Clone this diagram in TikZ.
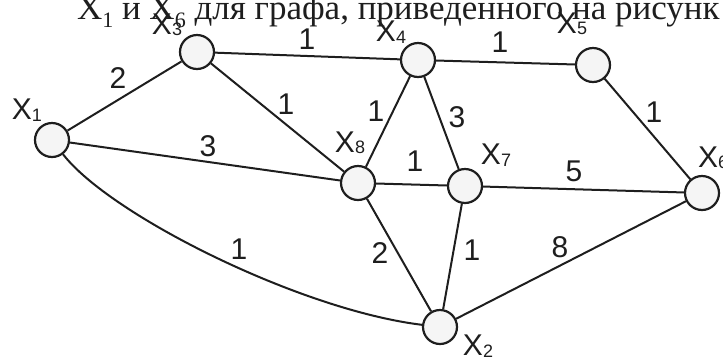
\documentclass[tikz,border=0pt]{standalone}
\usepackage{fontspec}
\setmainfont{Liberation Sans}
\newfontfamily\capfont{Liberation Serif}
\usetikzlibrary{positioning}
\definecolor{ink}{HTML}{1E1E1E}
\tikzset{
	graphstyle/.style={
		x=1pt, y=-1pt,
		line width=2pt,
		draw=ink,
		text=ink},
	vertex/.style={circle, draw=ink, fill=gray!8, line width=2.2pt,
		minimum size=34pt, inner sep=0pt},
	vname/.style={inner sep=0pt, font=\fontsize{30}{36}\selectfont},
	weight/.style={inner sep=0pt, font=\fontsize{30}{36}\selectfont},
	caption/.style={inner sep=0pt, anchor=base west,
		font=\capfont\fontsize{35}{42}\selectfont}}
\newcommand{\vx}[1]{X\raisebox{-1.5pt}{\fontsize{18}{18}\selectfont#1}}
\newcommand{\capsub}[1]{\raisebox{-0.25em}{\fontsize{22}{22}\selectfont#1}}

\begin{document}
\begin{tikzpicture}[graphstyle]
	\useasboundingbox (0,0) rectangle (723,360);
	\clip (0,0) rectangle (723,360);

	% cut-off line of the task text
	\node[caption] (cap) at (76,19) {X\capsub{1} и X\capsub{6} для графа, приведенного на рисунк};

	% vertices
	\node[vertex] (x1) at (52,140) {};
	\node[vertex] (x2) at (440,327) {};
	\node[vertex] (x3) at (197,52) {};
	\node[vertex] (x4) at (418,60) {};
	\node[vertex] (x5) at (593,65) {};
	\node[vertex] (x6) at (702,193) {};
	\node[vertex] (x7) at (465,186) {};
	\node[vertex] (x8) at (358,183) {};

	% vertex names
	\node[vname] (n1) at (27,110) {\vx{1}};
	\node[vname] (n2) at (478,346) {\vx{2}};
	\node[vname] (n3) at (167,25) {\vx{3}};
	\node[vname] (n4) at (391,32) {\vx{4}};
	\node[vname] (n5) at (572,24) {\vx{5}};
	\node[vname, anchor=west] (n6) at (697,158) {\vx{6}};
	\node[vname] (n7) at (496,155) {\vx{7}};
	\node[vname] (n8) at (350,143) {\vx{8}};

	% weighted edges
	\draw (x1) -- (x3) node[weight] at (118,78) {2};
	\draw (x1) -- (x8) node[weight] at (208,146) {3};
	\draw (x1) .. controls (110,215) and (300,310) .. (x2) node[weight] at (239,249) {1};
	\draw (x3) -- (x4) node[weight] at (307,39) {1};
	\draw (x3) -- (x8) node[weight] at (286,104) {1};
	\draw (x4) -- (x5) node[weight] at (500,42) {1};
	\draw (x4) -- (x8) node[weight] at (376,111) {1};
	\draw (x4) -- (x7) node[weight] at (457,117) {3};
	\draw (x8) -- (x7) node[weight] at (415,161) {1};
	\draw (x7) -- (x6) node[weight] at (574,171) {5};
	\draw (x5) -- (x6) node[weight] at (654,112) {1};
	\draw (x8) -- (x2) node[weight] at (380,253) {2};
	\draw (x7) -- (x2) node[weight] at (472,250) {1};
	\draw (x2) -- (x6) node[weight] at (560,247) {8};

\end{tikzpicture}
\end{document}
